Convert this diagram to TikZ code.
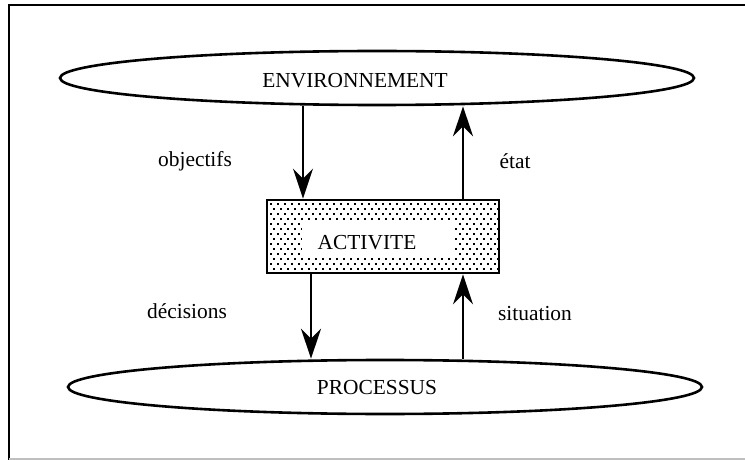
\documentclass[tikz,border=0pt]{standalone}
\usepackage{fontspec}
\setmainfont{Liberation Serif}
\usetikzlibrary{shapes.geometric,arrows.meta,patterns.meta}

\tikzdeclarepattern{
  name=actdots,
  type=uncolored,
  bottom left={(-.1pt,-.1pt)},
  top right={(3.6pt,5.1pt)},
  tile size={(3.5pt,5pt)},
  code={
    \fill (0pt,0pt) rectangle (1.1pt,1.1pt);
    \fill (1.75pt,2.5pt) rectangle (2.85pt,3.6pt);
  }
}

\tikzset{
  lab/.style={font=\fontsize{10.7}{12}\selectfont, inner sep=0pt},
  oval/.style={ellipse, draw, line width=1.3pt, minimum width=317pt, minimum height=27pt, inner sep=0pt},
  flow/.style={line width=1.2pt, -{Stealth[length=15pt, width=10pt, inset=5pt]}}
}

\begin{document}
\begin{tikzpicture}[x=0.5pt, y=-0.5pt]
  \useasboundingbox (0,0) rectangle (745,460);
  % frame
  \draw[line width=1.2pt] (9,460) -- (9,5) -- (745,5);
  \draw[gray!50, line width=0.8pt] (9,459) -- (745,459);

  \node[oval] (env) at (377,78) {};
  \node[oval] (proc) at (385,387) {};
  \node[lab] (envtxt) at (355,81) {ENVIRONNEMENT};
  \node[lab] (proctxt) at (377,388) {PROCESSUS};

  % activity box
  \node[draw, line width=1.4pt, pattern=actdots, minimum width=116pt, minimum height=36.5pt, inner sep=0pt] (act) at (383,236.5) {};
  \node[fill=white, minimum width=76.5pt, minimum height=18.5pt, inner sep=0pt] (actin) at (378.5,238.5) {};
  \node[lab] (acttxt) at (367,243) {ACTIVITE};

  \foreach \a/\b/\x in {
    env.south/act.north/303, act.north/env.south/463,
    act.south/proc.north/311, proc.north/act.south/463} {
    \draw[flow] (\a -| \x,0) -- (\b -| \x,0);
  }

  \node[lab] (obj) at (195,161) {objectifs};
  \node[lab] (etat) at (515,161) {état};
  \node[lab] (dec) at (187,311) {décisions};
  \node[lab] (sit) at (535,314) {situation};
\end{tikzpicture}
\end{document}
